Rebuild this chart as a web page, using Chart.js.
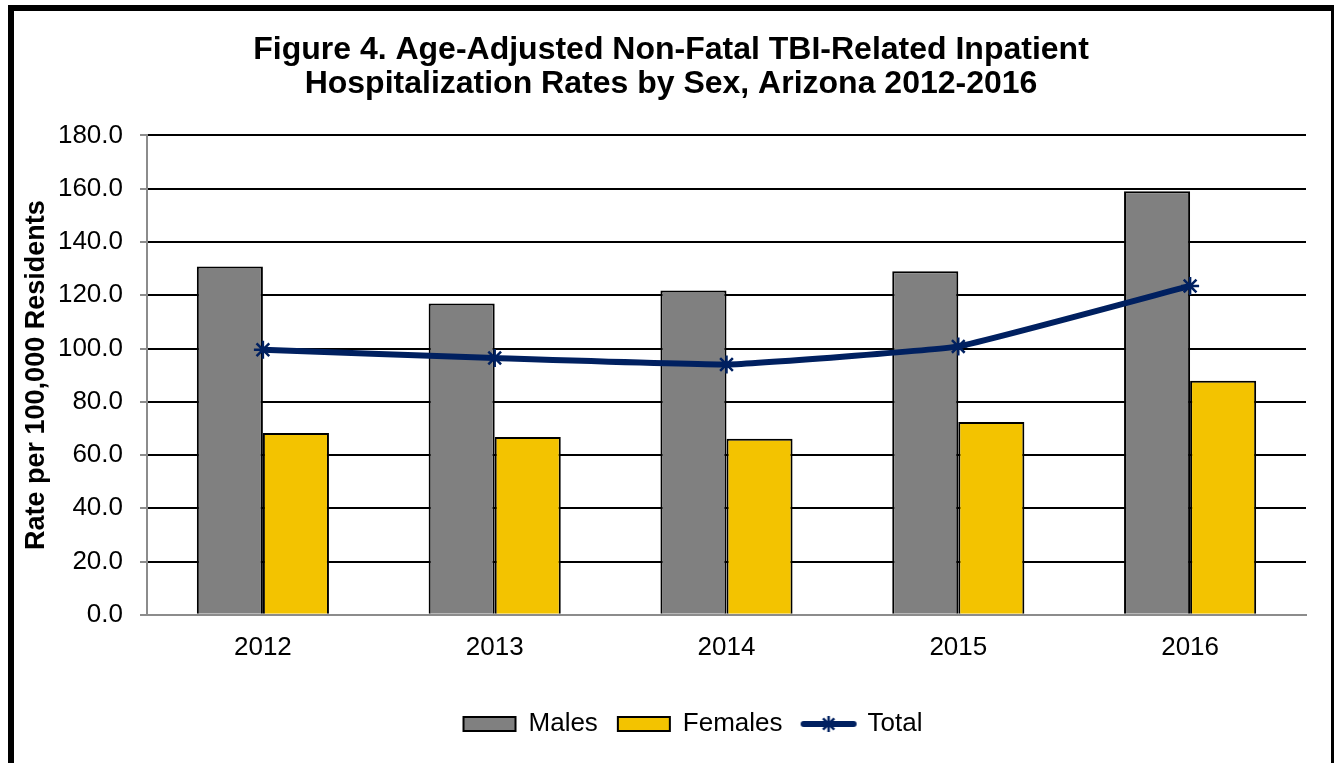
<!DOCTYPE html>
<html>
<head>
<meta charset="utf-8">
<script src="https://cdn.jsdelivr.net/npm/chart.js@4"></script>
<style>
    html, body { margin: 0; padding: 0; background: #fff; }
    #wrap { position: relative; width: 1334px; height: 763px; overflow: hidden; }
    #frame {
        position: absolute; left: 8px; top: 5px; width: 1327px; height: 800px;
        border: 6px solid #000; border-right-width: 4px; box-sizing: border-box;
        pointer-events: none;
    }
    canvas { position: absolute; left: 0; top: 0; }
</style>
</head>
<body>
<div id="wrap">
    <canvas id="chart" width="1334" height="763"></canvas>
    <div id="frame"></div>
</div>
<script>
const years = ["2012", "2013", "2014", "2015", "2016"];
const males = [130.8, 116.9, 121.8, 129.0, 159.1];
const females = [68.3, 66.8, 66.1, 72.4, 87.9];
const total = [99.5, 96.4, 94.0, 100.8, 123.5];
const yTicks = [0, 20, 40, 60, 80, 100, 120, 140, 160, 180];

const FONT = "'Liberation Sans', Arial, sans-serif";
const NAVY = "#002060";

// legend icon for the line series: line with star marker
function lineIcon() {
    const c = document.createElement("canvas");
    c.width = 58; c.height = 20;
    const g = c.getContext("2d");
    g.strokeStyle = NAVY;
    g.lineCap = "round";
    g.lineWidth = 6;
    g.beginPath(); g.moveTo(4, 10); g.lineTo(54, 10); g.stroke();
    g.lineWidth = 2.5;
    g.lineCap = "butt";
    const r = 8;
    g.beginPath();
    g.moveTo(29 - r * 0.7, 10 - r * 0.7); g.lineTo(29 + r * 0.7, 10 + r * 0.7);
    g.moveTo(29 + r * 0.7, 10 - r * 0.7); g.lineTo(29 - r * 0.7, 10 + r * 0.7);
    g.moveTo(29, 10 - r); g.lineTo(29, 10 + r);
    g.stroke();
    return c;
}
const totalIcon = lineIcon();
const legendOrder = ["Males", "Females", "Total"];

// title and legend sit a bit right of the canvas centre in the original
const nudgeBoxes = {
    id: "nudgeBoxes",
    afterLayout(chart) {
        if (chart.titleBlock) { chart.titleBlock.left += 8; chart.titleBlock.right += 8; }
        if (chart.legend) { chart.legend.left += 30; chart.legend.right += 30; }
    }
};

new Chart(document.getElementById("chart"), {
    data: {
        labels: years,
        datasets: [
            {
                type: "line",
                label: "Total",
                data: total,
                borderColor: NAVY,
                backgroundColor: NAVY,
                borderWidth: 6,
                pointStyle: "star",
                pointRadius: 9,
                pointBorderWidth: 2.5,
                pointBorderColor: NAVY,
                tension: 0.1,
                order: 0
            },
            {
                type: "bar",
                label: "Males",
                data: males,
                backgroundColor: "#808080",
                borderColor: "#000",
                borderWidth: 2,
                categoryPercentage: 0.57,
                barPercentage: 1,
                order: 1
            },
            {
                type: "bar",
                label: "Females",
                data: females,
                backgroundColor: "#F3C300",
                borderColor: "#000",
                borderWidth: 2,
                categoryPercentage: 0.57,
                barPercentage: 1,
                order: 1
            }
        ]
    },
    options: {
        responsive: false,
        animation: false,
        layout: { padding: { left: 20, right: 28, top: 0, bottom: 16 } },
        plugins: {
            title: {
                display: true,
                text: ["Figure 4. Age-Adjusted Non-Fatal TBI-Related Inpatient",
                       "Hospitalization Rates by Sex, Arizona 2012-2016"],
                color: "#000",
                font: { family: FONT, size: 32, weight: "bold", lineHeight: 1.07 },
                padding: { top: 33, bottom: 34 }
            },
            legend: {
                position: "bottom",
                labels: {
                    color: "#000",
                    font: { family: FONT, size: 26 },
                    usePointStyle: true,
                    pointStyleWidth: 52,
                    boxHeight: 14,
                    padding: 20,
                    sort: (a, b) => legendOrder.indexOf(a.text) - legendOrder.indexOf(b.text),
                    generateLabels: function (chart) {
                        const items = Chart.defaults.plugins.legend.labels.generateLabels(chart);
                        items.forEach(it => {
                            if (it.text === "Total") {
                                it.pointStyle = totalIcon;
                            } else {
                                it.pointStyle = "rect";
                                it.lineWidth = 2;
                                it.strokeStyle = "#000";
                            }
                        });
                        return items;
                    }
                }
            },
            tooltip: { enabled: false }
        },
        scales: {
            x: {
                grid: { display: false },
                border: { color: "#8c8c8c", width: 2 },
                ticks: { color: "#000", font: { family: FONT, size: 26 }, padding: 9 },
                afterFit: scale => { scale.height += 19; }
            },
            y: {
                min: 0,
                max: 180,
                afterBuildTicks: axis => { axis.ticks = yTicks.map(v => ({ value: v })); },
                grid: { color: "#000", lineWidth: 2, tickColor: "#8c8c8c", tickLength: 7 },
                border: { color: "#8c8c8c", width: 2 },
                ticks: {
                    color: "#000",
                    font: { family: FONT, size: 26 },
                    padding: 17,
                    callback: v => v.toFixed(1)
                },
                title: {
                    display: true,
                    text: "Rate per 100,000 Residents",
                    color: "#000",
                    font: { family: FONT, size: 27, weight: "bold" },
                    padding: { top: 0, bottom: 0 }
                },
                afterFit: scale => { scale.width = 127; }
            }
        }
    },
    plugins: [nudgeBoxes]
});
</script>
</body>
</html>
